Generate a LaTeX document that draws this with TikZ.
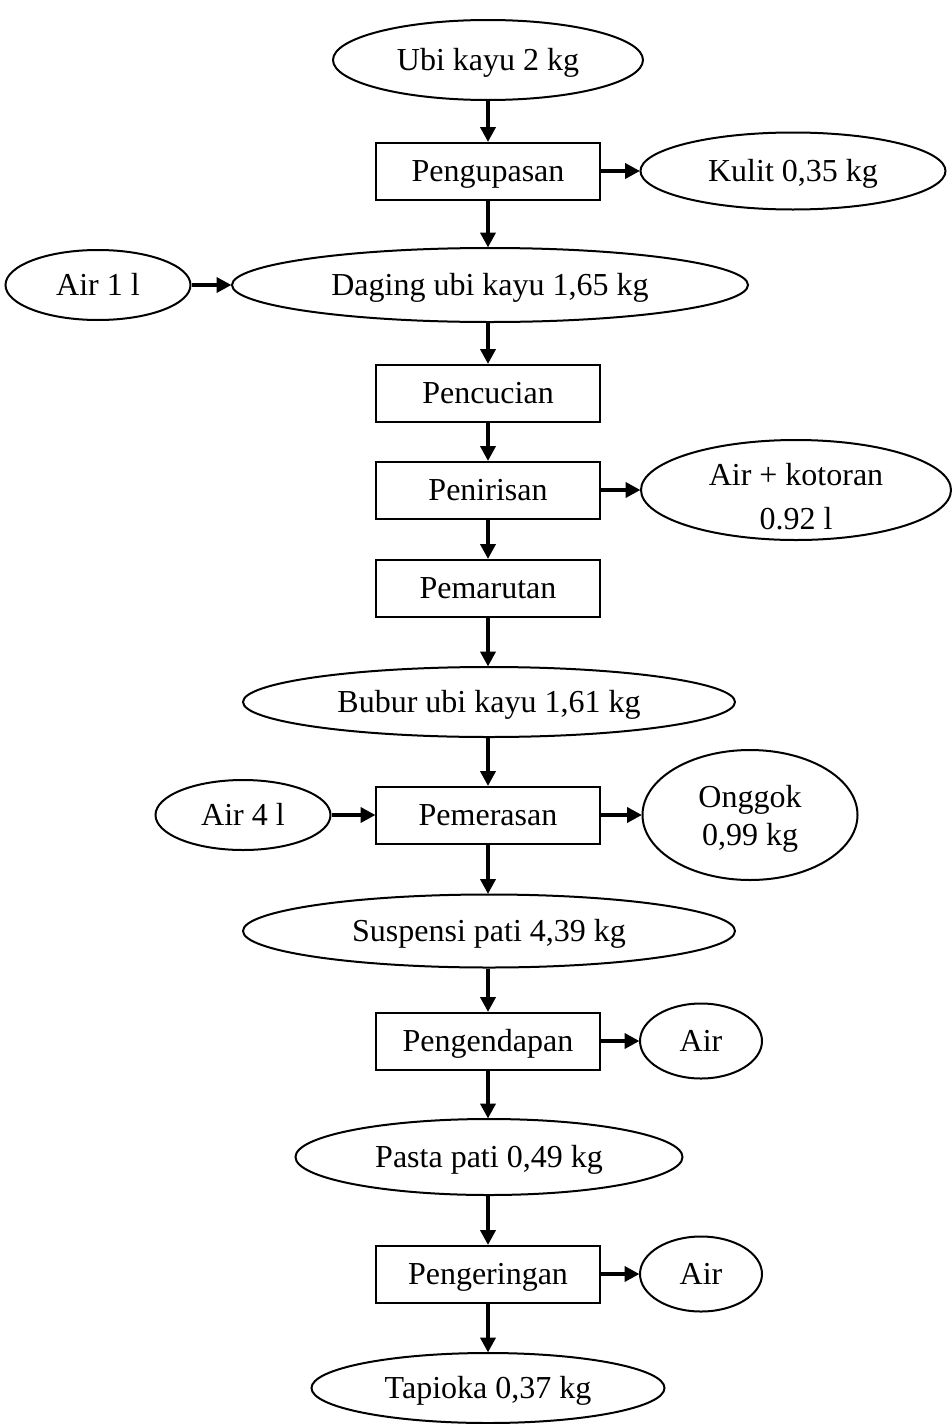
\documentclass[tikz,border=0pt]{standalone}
\usepackage{fontspec}
\setmainfont{Liberation Serif}
\usetikzlibrary{shapes.geometric,arrows.meta}
\begin{document}
\begin{tikzpicture}[x=1pt,y=-1pt,
  every node/.style={inner sep=0pt,font=\fontsize{32}{38}\selectfont,align=center},
  proc/.style={draw,line width=2pt,rectangle,minimum width=224pt,minimum height=57pt,text height=24pt,text depth=4pt},
  mat/.style={draw,line width=2pt,ellipse,text height=24pt,text depth=4pt},
  arr/.style={line width=4pt,-{Triangle[length=15pt,width=15pt]},shorten >=-0.5pt}]
\useasboundingbox (0,0) rectangle (952,1424);
\node[mat,minimum width=310pt,minimum height=80pt] (ubi) at (488,60) {Ubi kayu 2 kg};
\node[proc] (kupas) at (488,171) {Pengupasan};
\node[mat,minimum width=305pt,minimum height=77pt] (kulit) at (793,171) {Kulit 0,35 kg};
\node[mat,minimum width=185pt,minimum height=70pt] (air1) at (98,285) {Air 1 l};
\node[mat,minimum width=516pt,minimum height=74pt] (daging) at (490,285) {Daging ubi kayu 1,65 kg};
\node[proc] (cuci) at (488,393) {Pencucian};
\node[proc] (tiris) at (488,490) {Penirisan};
\node[mat,minimum width=310pt,minimum height=100pt,
  label={[yshift=-7pt]center:Air + kotoran\\[6pt]0.92 l}] (kotor) at (796,490) {};
\node[proc] (parut) at (488,588) {Pemarutan};
\node[mat,minimum width=492pt,minimum height=70pt] (bubur) at (489,702) {Bubur ubi kayu 1,61 kg};
\node[proc] (peras) at (488,815) {Pemerasan};
\node[mat,minimum width=175pt,minimum height=70pt] (air4) at (243,815) {Air 4 l};
\node[mat,minimum width=215pt,minimum height=130pt,
  label={[yshift=-4pt]center:Onggok\\0,99 kg}] (onggok) at (750,815) {};
\node[mat,minimum width=492pt,minimum height=73pt] (susp) at (489,931) {Suspensi pati 4,39 kg};
\node[proc] (endap) at (488,1041) {Pengendapan};
\node[mat,minimum width=122pt,minimum height=75pt] (aira) at (701,1041) {Air};
\node[mat,minimum width=387pt,minimum height=76pt] (pasta) at (489,1157) {Pasta pati 0,49 kg};
\node[proc] (kering) at (488,1274) {Pengeringan};
\node[mat,minimum width=122pt,minimum height=75pt] (airb) at (701,1274) {Air};
\node[mat,minimum width=353pt,minimum height=70pt] (tapioka) at (488,1388) {Tapioka 0,37 kg};
\draw[arr] (ubi.south) -- (kupas.north);
\draw[arr] (kupas.east) -- (kulit.west);
\draw[arr] (kupas.south) -- (kupas.south |- daging.north);
\draw[arr] (air1.east) -- (daging.west);
\draw[arr] (cuci.north |- daging.south) -- (cuci.north);
\draw[arr] (cuci.south) -- (tiris.north);
\draw[arr] (tiris.east) -- (kotor.west);
\draw[arr] (tiris.south) -- (parut.north);
\draw[arr] (parut.south) -- (parut.south |- bubur.north);
\draw[arr] (peras.north |- bubur.south) -- (peras.north);
\draw[arr] (air4.east) -- (peras.west);
\draw[arr] (peras.east) -- (onggok.west);
\draw[arr] (peras.south) -- (peras.south |- susp.north);
\draw[arr] (endap.north |- susp.south) -- (endap.north);
\draw[arr] (endap.east) -- (aira.west);
\draw[arr] (endap.south) -- (endap.south |- pasta.north);
\draw[arr] (kering.north |- pasta.south) -- (kering.north);
\draw[arr] (kering.east) -- (airb.west);
\draw[arr] (kering.south) -- (tapioka.north);
\end{tikzpicture}
\end{document}
